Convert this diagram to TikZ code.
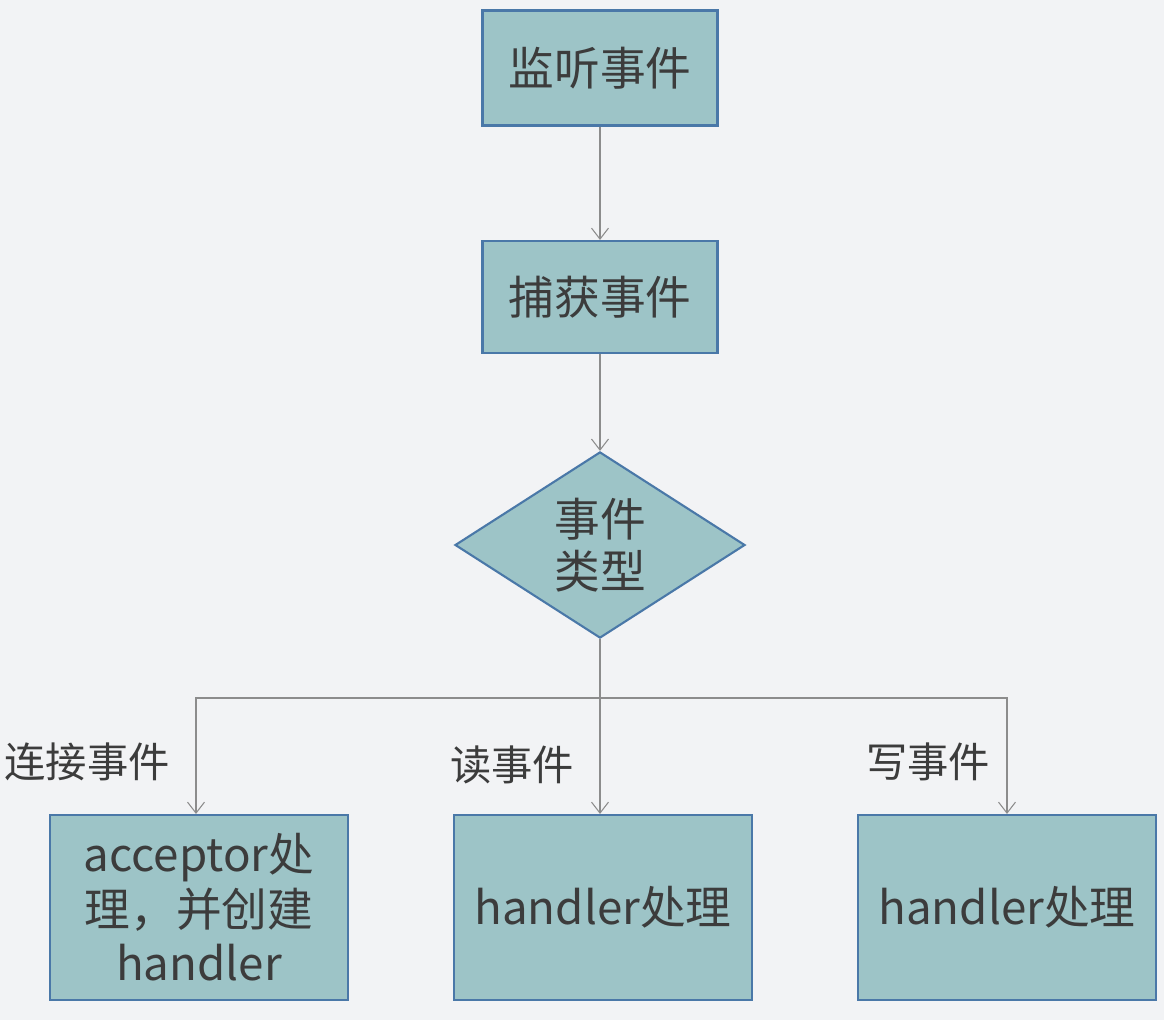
\documentclass[tikz,border=0pt]{standalone}
\usepackage{fontspec}
\setmainfont{Noto Sans CJK SC}
\usepackage{xcolor}
\usepackage{tikz}
\usetikzlibrary{positioning,shapes.geometric,arrows.meta}
\definecolor{pagebg}{HTML}{F2F3F5}
\definecolor{boxfill}{HTML}{9DC4C7}
\definecolor{boxline}{HTML}{4A78A8}
\definecolor{textgray}{HTML}{3C3C3C}
\definecolor{linegray}{HTML}{8C8C8C}
\tikzset{
  % --- flow chart blocks ---
  stepbox/.style={draw=boxline, line width=1.2pt, fill=boxfill, align=center,
                  text=textgray, font=\fontsize{26}{31}\selectfont,
                  minimum width=4.7cm, minimum height=2.3cm, inner sep=2pt},
  endbox/.style={stepbox, minimum width=5.96cm, minimum height=3.7cm},
  choice/.style={diamond, draw=boxline, line width=1.2pt, fill=boxfill,
                 align=center, text=textgray, inner sep=0pt,
                 font=\fontsize{26}{30}\selectfont,
                 minimum width=5.8cm, minimum height=3.6cm},
  caselabel/.style={text=textgray, font=\fontsize{23.5}{28}\selectfont},
  % --- connectors ---
  flow/.style={-{Straight Barb[length=2.2mm,width=3.4mm]}, draw=linegray,
               line width=0.6pt},
}
\begin{document}
\begin{tikzpicture}
  \fill[pagebg] (0,0) rectangle (23.28,-20.4);
  \useasboundingbox (0,0) rectangle (23.28,-20.4);
  % main column
  \node[stepbox] (listen) at (12.0,-1.36) {监听事件};
  \node[stepbox, minimum height=2.24cm] (catch) at (12.0,-5.94) {捕获事件};
  \node[choice] (kind) at (12.0,-10.9) {事件\\类型};
  \coordinate (split) at (12.0,-13.96);
  % handlers
  \node[endbox] (accept) at (3.98,-18.15) {acceptor处\\理，并创建\\handler};
  \node[endbox] (read) at (12.06,-18.15) {handler处理};
  \node[endbox] (write) at (20.14,-18.15) {handler处理};
  % case labels
  \node[caselabel] (lconn) at (1.74,-15.24) {连接事件};
  \node[caselabel] (lread) at (10.24,-15.3) {读事件};
  \node[caselabel] (lwrite) at (18.56,-15.24) {写事件};
  % connectors
  \draw[flow] (listen) -- (catch);
  \draw[flow] (catch) -- (kind);
  \draw[flow] (kind.south) -- (split) -| ([xshift=-0.06cm]accept.north);
  \draw[flow] (kind.south) -- (split) -- (split |- read.north);
  \draw[flow] (kind.south) -- (split) -| (write.north);
\end{tikzpicture}
\end{document}
